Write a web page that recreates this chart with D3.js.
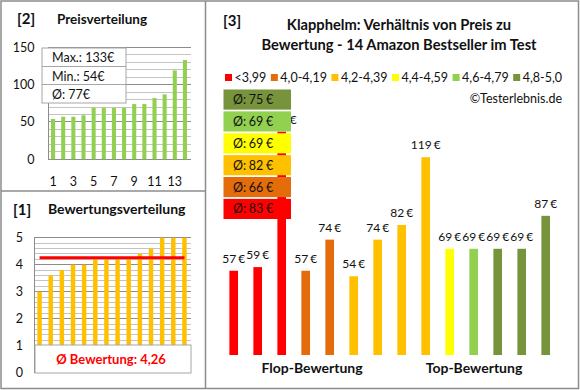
<!DOCTYPE html>
<html>
<head>
<meta charset="utf-8">
<script src="https://cdn.jsdelivr.net/npm/d3@7"></script>
<style>
  html, body { margin: 0; padding: 0; background: #fff; }
  svg { display: block; font-family: Lato, "Open Sans", sans-serif; }
</style>
</head>
<body>
<div id="chart"></div>
<script>
// price distribution (sorted)
const priceSorted = [54, 57, 57, 59, 69, 69, 69, 69, 74, 74, 82, 87, 119, 133];
const priceTicks = [0, 50, 100, 150];
const priceXTicks = [1, 3, 5, 7, 9, 11, 13];
const priceStats = ["Max.: 133€", "Min.: 54€", "Ø: 77€"];

// rating distribution (sorted)
const ratings = [3.0, 3.6, 3.8, 4.0, 4.0, 4.2, 4.2, 4.2, 4.2, 4.4, 4.6, 5.0, 5.0, 5.0];
const ratingTicks = [0, 1, 2, 3, 4, 5];
const ratingAvg = 4.26;
const ratingAvgLabel = "Ø Bewertung: 4,26";

// products, flop -> top
const productPrices = [57, 59, 133, 57, 74, 54, 74, 82, 119, 69, 69, 69, 69, 87];
const productGroups = [0, 0, 0, 1, 1, 2, 2, 2, 2, 3, 4, 5, 5, 5];
const groupLabels = ["<3,99", "4,0-4,19", "4,2-4,39", "4,4-4,59", "4,6-4,79", "4,8-5,0"];
const groupColors = ["#ff0000", "#e46c0a", "#ffc000", "#ffff00", "#92d050", "#77933c"];
const groupAvgs = [83, 66, 82, 69, 69, 75];

const W = 580, H = 390;
const textCol = "#111";
const gridMajor = "#8c8c8c", gridMinor = "#c4c4c4";

const svg = d3.select("#chart").append("svg")
  .attr("width", W).attr("height", H);

// ---------- panel [2] Preisverteilung ----------
{
  const g = svg.append("g");
  const x = d3.scaleBand().domain(d3.range(1, 15)).range([48, 190])
    .paddingInner(0.6).paddingOuter(0.3);
  const y = d3.scaleLinear().domain([0, 150]).range([159.3, 47.3]);

  g.selectAll("line.grid").data(d3.range(0, 151, 10)).join("line")
    .attr("x1", 48).attr("x2", 191)
    .attr("y1", d => y(d)).attr("y2", d => y(d))
    .attr("stroke", d => d % 50 === 0 ? gridMajor : gridMinor)
    .attr("shape-rendering", "crispEdges");
  g.append("line").attr("x1", 48).attr("x2", 48).attr("y1", y(150)).attr("y2", y(0))
    .attr("stroke", gridMajor).attr("shape-rendering", "crispEdges");

  g.selectAll("rect.bar").data(priceSorted).join("rect")
    .attr("x", (d, i) => x(i + 1)).attr("width", x.bandwidth())
    .attr("y", d => y(d)).attr("height", d => y(0) - y(d))
    .attr("fill", "#92d050");

  g.selectAll("text.yt").data(priceTicks).join("text")
    .attr("x", 34.5).attr("y", d => y(d) + 4.5)
    .attr("text-anchor", "end").attr("font-size", 12.5).attr("fill", textCol)
    .text(d => d);
  g.selectAll("text.xt").data(priceXTicks).join("text")
    .attr("x", d => x(d) + x.bandwidth() / 2).attr("y", 185.5)
    .attr("text-anchor", "middle").attr("font-size", 12.5).attr("fill", textCol)
    .text(d => d);

  // stats box
  const rows = [48, 66.5, 84.5, 103];
  g.append("rect").attr("x", 42).attr("y", 48).attr("width", 84).attr("height", 55)
    .attr("fill", "#fff").attr("stroke", "#a6a6a6");
  g.selectAll("line.sep").data(rows.slice(1, 3)).join("line")
    .attr("x1", 42).attr("x2", 126).attr("y1", d => d).attr("y2", d => d)
    .attr("stroke", "#a6a6a6");
  g.selectAll("text.stat").data(priceStats).join("text")
    .attr("x", 52).attr("y", (d, i) => rows[i] + 14)
    .attr("font-size", 12.5).attr("fill", textCol)
    .text(d => d);

  g.append("text").attr("x", 17).attr("y", 24).attr("font-size", 15)
    .attr("font-weight", "bold").attr("fill", textCol).text("[2]");
  g.append("text").attr("x", 57).attr("y", 23.5).attr("font-size", 13.5)
    .attr("font-weight", "bold").attr("fill", textCol).text("Preisverteilung");
}

// ---------- panel [1] Bewertungsverteilung ----------
{
  const g = svg.append("g");
  const x = d3.scaleBand().domain(d3.range(14)).range([34, 190])
    .paddingInner(0.6).paddingOuter(0.3);
  const y = d3.scaleLinear().domain([0, 5]).range([372.7, 237.7]);

  g.selectAll("line.grid").data(d3.range(0, 26).map(d => d / 5)).join("line")
    .attr("x1", 34).attr("x2", 191)
    .attr("y1", d => y(d)).attr("y2", d => y(d))
    .attr("stroke", d => Math.abs(d - Math.round(d)) < 1e-6 ? gridMajor : gridMinor)
    .attr("shape-rendering", "crispEdges");
  g.append("line").attr("x1", 34).attr("x2", 34).attr("y1", y(5)).attr("y2", y(0))
    .attr("stroke", gridMajor).attr("shape-rendering", "crispEdges");

  g.selectAll("rect.bar").data(ratings).join("rect")
    .attr("x", (d, i) => x(i)).attr("width", x.bandwidth())
    .attr("y", d => y(d)).attr("height", d => y(0) - y(d))
    .attr("fill", "#ffc000");

  g.append("line")
    .attr("x1", x(0) + x.bandwidth() / 2).attr("x2", x(13) + x.bandwidth() / 2)
    .attr("y1", y(ratingAvg)).attr("y2", y(ratingAvg))
    .attr("stroke", "#ff0000").attr("stroke-width", 3);

  g.selectAll("text.yt").data(ratingTicks).join("text")
    .attr("x", 23).attr("y", d => y(d) + 4.5)
    .attr("text-anchor", "end").attr("font-size", 12.5).attr("fill", textCol)
    .text(d => d);

  g.append("rect").attr("x", 35).attr("y", 345).attr("width", 156).attr("height", 28)
    .attr("fill", "#fff").attr("stroke", "#a6a6a6");
  g.append("text").attr("x", 111).attr("y", 363.5).attr("text-anchor", "middle")
    .attr("font-size", 13).attr("font-weight", "bold").attr("fill", "#ff0000")
    .text(ratingAvgLabel);

  g.append("text").attr("x", 13).attr("y", 214.5).attr("font-size", 15)
    .attr("font-weight", "bold").attr("fill", textCol).text("[1]");
  g.append("text").attr("x", 48).attr("y", 214).attr("font-size", 14)
    .attr("font-weight", "bold").attr("fill", textCol).text("Bewertungsverteilung");
}

// ---------- panel [3] Preis vs Bewertung ----------
{
  const g = svg.append("g");
  const x = d3.scaleBand().domain(d3.range(14)).range([221.7, 557.7])
    .paddingInner(0.64).paddingOuter(0.32);
  const y = d3.scaleLinear().domain([11, 133]).range([355, 131.6]);

  g.selectAll("rect.bar").data(productPrices).join("rect")
    .attr("x", (d, i) => x(i)).attr("width", x.bandwidth())
    .attr("y", d => y(d)).attr("height", d => y(11) - y(d))
    .attr("fill", (d, i) => groupColors[productGroups[i]]);

  g.selectAll("text.val").data(productPrices).join("text")
    .attr("x", (d, i) => x(i) + x.bandwidth() / 2).attr("y", d => y(d) - 8)
    .attr("text-anchor", "middle").attr("font-size", 12).attr("word-spacing", -1)
    .attr("fill", textCol)
    .text(d => d + " €");

  // group average boxes, top = best group
  const by = d3.scaleBand().domain([5, 4, 3, 2, 1, 0]).range([89.5, 219])
    .paddingInner(0.08);
  const boxes = g.selectAll("g.avg").data(groupAvgs.map((v, i) => ({ v, i }))).join("g");
  boxes.append("rect")
    .attr("x", 223.5).attr("y", d => by(d.i)).attr("width", 67.5).attr("height", by.bandwidth())
    .attr("fill", d => groupColors[d.i]);
  boxes.append("text")
    .attr("x", 233).attr("y", d => by(d.i) + by.bandwidth() / 2 + 4.5)
    .attr("font-size", 12.5).attr("word-spacing", -0.5).attr("fill", textCol)
    .text(d => "Ø: " + d.v + " €");

  // legend
  const lg = g.append("g");
  const items = lg.selectAll("g").data(groupLabels).join("g");
  items.append("rect").attr("width", 7).attr("height", 7).attr("y", 74)
    .attr("fill", (d, i) => groupColors[i]);
  items.append("text").attr("x", 9.5).attr("y", 82).attr("font-size", 12.5)
    .attr("fill", textCol).text(d => d);
  const widths = items.nodes().map(n => 9.5 + n.querySelector("text").getComputedTextLength());
  const gap = (562 - 225 - d3.sum(widths)) / (widths.length - 1);
  let cx = 225;
  items.each(function (d, i) {
    d3.select(this).attr("transform", `translate(${cx},0)`);
    cx += widths[i] + gap;
  });

  g.append("text").attr("x", 562).attr("y", 103).attr("text-anchor", "end")
    .attr("font-size", 12.5).attr("fill", textCol).text("©Testerlebnis.de");

  g.append("text").attr("x", 223).attr("y", 26).attr("font-size", 15)
    .attr("font-weight", "bold").attr("fill", textCol).text("[3]");
  g.append("text").attr("x", 399).attr("y", 29.5).attr("text-anchor", "middle")
    .attr("font-size", 14.7).attr("font-weight", "bold").attr("fill", textCol)
    .text("Klapphelm: Verhältnis von Preis zu");
  g.append("text").attr("x", 399).attr("y", 49.5).attr("text-anchor", "middle")
    .attr("font-size", 14.7).attr("font-weight", "bold").attr("fill", textCol)
    .text("Bewertung - 14 Amazon Bestseller im Test");

  g.append("text").attr("x", 312).attr("y", 373).attr("text-anchor", "middle")
    .attr("font-size", 14).attr("font-weight", "bold").attr("fill", textCol)
    .text("Flop-Bewertung");
  g.append("text").attr("x", 474).attr("y", 373).attr("text-anchor", "middle")
    .attr("font-size", 14).attr("font-weight", "bold").attr("fill", textCol)
    .text("Top-Bewertung");
}

// panel borders
svg.append("rect").attr("x", 1).attr("y", 1).attr("width", 577.5).attr("height", 387.5)
  .attr("fill", "none").attr("stroke", "#8c8c8c").attr("stroke-width", 1.5);
svg.append("line").attr("x1", 205.5).attr("x2", 205.5).attr("y1", 1).attr("y2", 389)
  .attr("stroke", "#8c8c8c").attr("stroke-width", 1.5);
svg.append("line").attr("x1", 1).attr("x2", 205.5).attr("y1", 191).attr("y2", 191)
  .attr("stroke", "#8c8c8c").attr("stroke-width", 1.5);
</script>
</body>
</html>
